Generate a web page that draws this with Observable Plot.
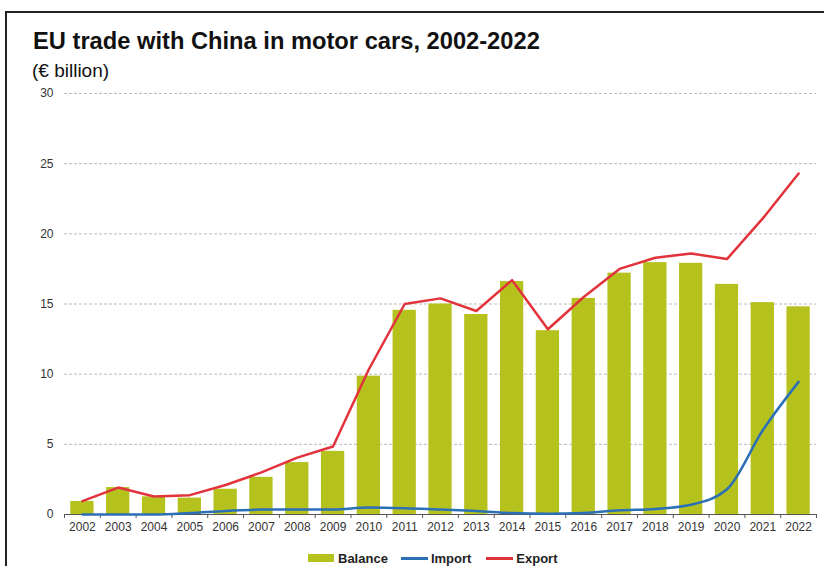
<!DOCTYPE html>
<html>
<head>
<meta charset="utf-8">
<script src="https://cdn.jsdelivr.net/npm/d3@7"></script>
<script src="https://cdn.jsdelivr.net/npm/@observablehq/plot@0.6"></script>
<style>
  html, body { margin: 0; padding: 0; background: #fff; }
  body { width: 824px; height: 566px; position: relative; overflow: hidden; font-family: "Liberation Sans", Arial, sans-serif; }
  #frame { position: absolute; left: 5px; top: 11px; right: -20px; bottom: -20px; border-top: 2px solid #222; border-left: 2px solid #222; }
  #chart { position: absolute; left: 0; top: 0; }
  #title { position: absolute; left: 33px; top: 30px; font-size: 23.7px; line-height: 1; font-weight: bold; color: #111; white-space: nowrap; }
  #subtitle { position: absolute; left: 32px; top: 61px; font-size: 19px; line-height: 1; color: #111; white-space: nowrap; }
  #legend { position: absolute; left: 308px; top: 550px; height: 16px; display: flex; align-items: center; font-size: 13px; font-weight: bold; color: #222; }
  #legend .sw { display: inline-block; }
  #legend .item { display: flex; align-items: center; }
</style>
</head>
<body>
<div id="frame"></div>
<div id="chart"></div>
<div id="title">EU trade with China in motor cars, 2002-2022</div>
<div id="subtitle">(€ billion)</div>
<div id="legend"></div>
<script>
const years = ["2002","2003","2004","2005","2006","2007","2008","2009","2010","2011","2012","2013","2014","2015","2016","2017","2018","2019","2020","2021","2022"];
const balance = [0.93,1.92,1.26,1.17,1.8,2.65,3.7,4.5,9.86,14.55,15.0,14.25,16.6,13.1,15.4,17.2,17.95,17.9,16.4,15.1,14.8];
const importVals = [0,0,0,0.1,0.25,0.35,0.35,0.35,0.5,0.45,0.35,0.25,0.1,0.05,0.1,0.3,0.4,0.7,1.8,6.0,9.45];
const exportVals = [0.95,1.92,1.28,1.38,2.1,3.0,4.05,4.85,10.35,15.0,15.4,14.5,16.7,13.2,15.5,17.5,18.3,18.6,18.2,21.1,24.3];
const yTicks = [0,5,10,15,20,25,30];
const seriesNames = ["Balance","Import","Export"];
const colors = {Balance: "#b5c21e", Import: "#2b6fb7", Export: "#e2333c"};

const data = years.map((y, i) => ({year: y, balance: balance[i], imp: importVals[i], exp: exportVals[i]}));

const W = 824, H = 545, mL = 64, mR = 8, mT = 93, mB = 31;
const step = (W - mL - mR) / years.length;

const chart = Plot.plot({
  width: W, height: H,
  marginLeft: mL, marginRight: mR, marginTop: mT, marginBottom: mB,
  style: {fontFamily: '"Liberation Sans", Arial, sans-serif', background: "transparent", overflow: "visible"},
  x: {type: "band", domain: years, paddingInner: 0.35, paddingOuter: 0.175, round: false, label: null},
  y: {domain: [0, 30], label: null},
  marks: [
    Plot.gridY(yTicks.filter(d => d > 0), {stroke: "#bbb", strokeOpacity: 1, strokeDasharray: "3,2"}),
    Plot.barY(data, {x: "year", y: "balance", fill: colors.Balance}),
    Plot.ruleY([0], {stroke: "#555", strokeWidth: 1}),
    Plot.axisY(yTicks, {tickSize: 0, tickPadding: 11, fontSize: 12, fill: "#333", label: null}),
    Plot.axisX(years, {tickSize: 0, tickPadding: 8, fontSize: 12, fill: "#333", label: null}),
    Plot.axisX(years, {tickSize: 4, tickFormat: () => "", dx: -step / 2, stroke: "#555", label: null}),
    Plot.axisX([years[years.length - 1]], {tickSize: 4, tickFormat: () => "", dx: step / 2, stroke: "#555", label: null}),
    Plot.line(data, {x: "year", y: "imp", stroke: colors.Import, strokeWidth: 2.5, curve: "monotone-x"}),
    Plot.line(data, {x: "year", y: "exp", stroke: colors.Export, strokeWidth: 2.5})
  ]
});
document.getElementById("chart").appendChild(chart);

const legend = document.getElementById("legend");
seriesNames.forEach((name, i) => {
  const item = document.createElement("div");
  item.className = "item";
  item.style.marginRight = i === 0 ? "13px" : "15px";
  const sw = document.createElement("span");
  sw.className = "sw";
  if (name === "Balance") {
    sw.style.width = "26px"; sw.style.height = "8px"; sw.style.background = colors[name];
  } else {
    sw.style.width = "27px"; sw.style.height = "3px"; sw.style.background = colors[name];
  }
  sw.style.marginRight = name === "Balance" ? "4px" : "3px";
  const t = document.createElement("span");
  t.textContent = name;
  item.appendChild(sw); item.appendChild(t);
  legend.appendChild(item);
});
</script>
</body>
</html>
